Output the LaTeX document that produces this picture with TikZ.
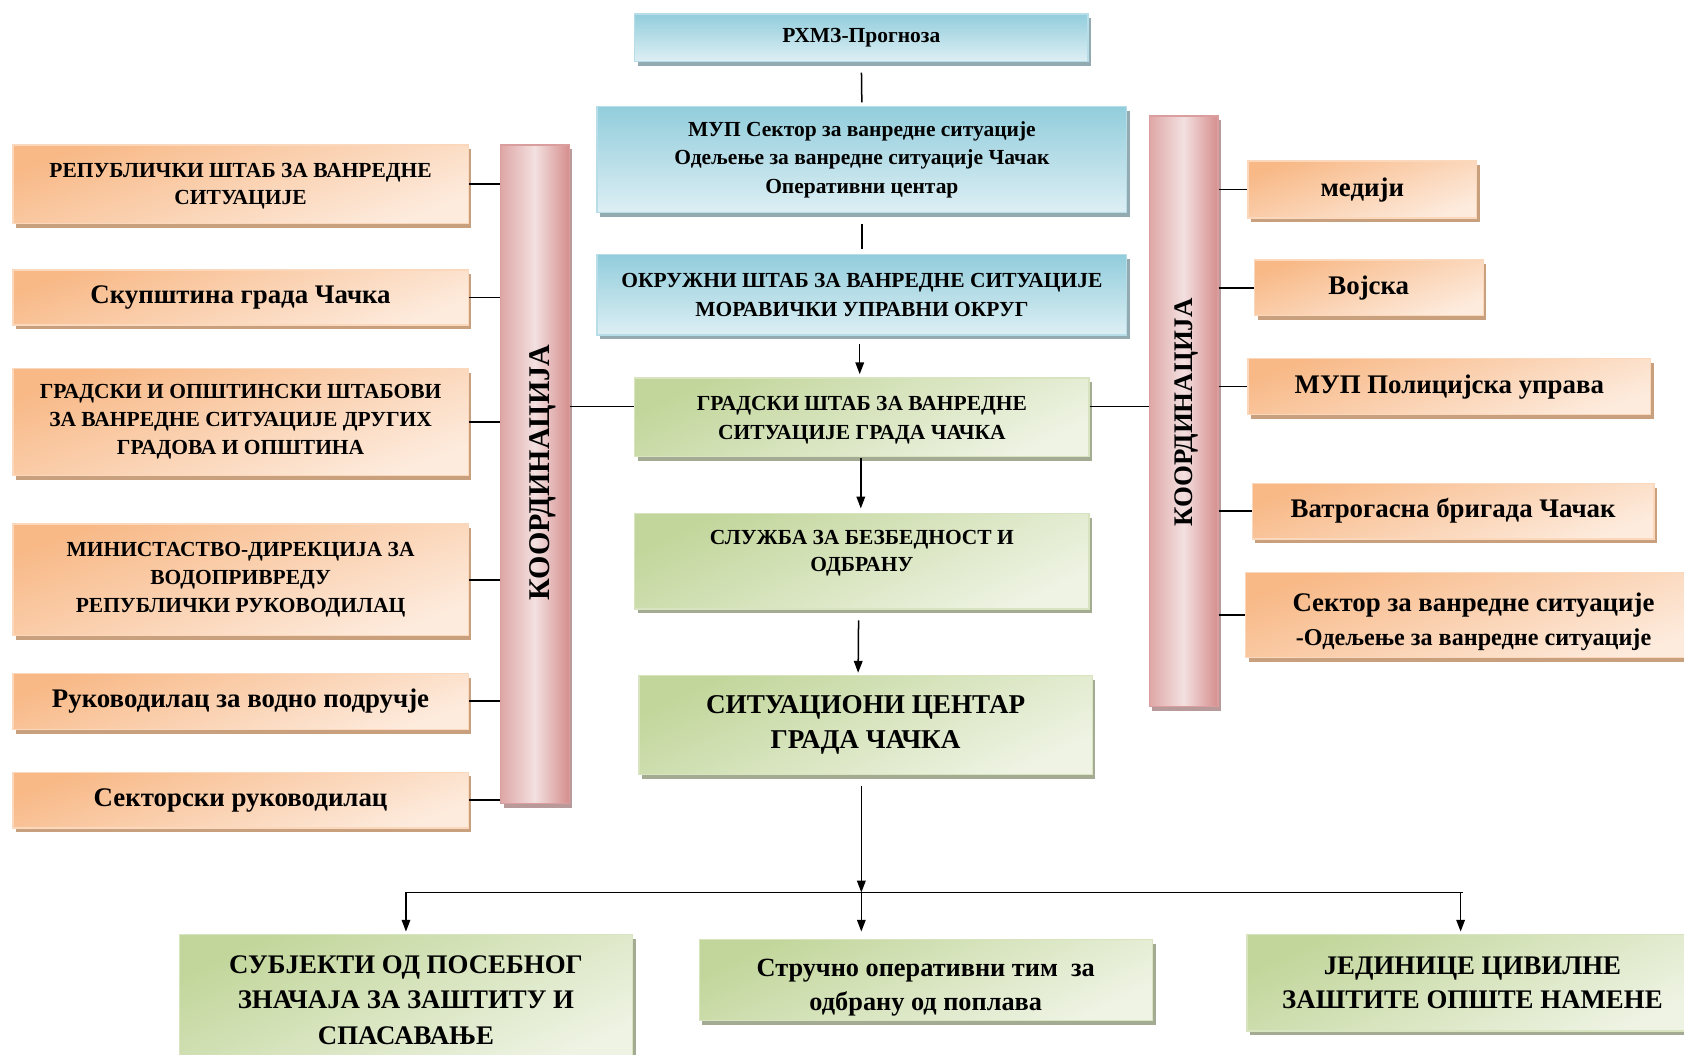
\documentclass[tikz,border=0pt]{standalone}
\usepackage{fontspec}
\setmainfont{Liberation Serif}
\usetikzlibrary{shadows,arrows.meta}
\definecolor{orD}{HTML}{F8B987}
\definecolor{orL}{HTML}{FDEBDD}
\definecolor{orS}{HTML}{C9A07E}
\definecolor{blD}{HTML}{92CDDC}
\definecolor{blL}{HTML}{DDEFF4}
\definecolor{blS}{HTML}{93AAB0}
\definecolor{grD}{HTML}{C2D69B}
\definecolor{grL}{HTML}{EEF3E3}
\definecolor{grS}{HTML}{A3AB93}
\definecolor{pkD}{HTML}{D58E8D}
\definecolor{pkL}{HTML}{F3E0E0}
\definecolor{pkS}{HTML}{B89A9A}
\newcommand{\fs}[2]{\fontsize{#1}{#2}\selectfont\bfseries}
\tikzset{
  basebox/.style={rectangle, inner sep=0pt, align=center, text=black, line width=1.2pt},
  obox/.style={basebox, top color=orD, bottom color=orL, shading angle=20, draw=orL!60!orD,
     drop shadow={shadow xshift=3pt, shadow yshift=-4pt, fill=orS, opacity=1}},
  bbox/.style={basebox, top color=blD, bottom color=blL, draw=blL!50!blD,
     drop shadow={shadow xshift=3pt, shadow yshift=-4pt, fill=blS, opacity=1}},
  gbox/.style={basebox, top color=grD, bottom color=grL, shading angle=25, draw=grL!50!grD,
     drop shadow={shadow xshift=3pt, shadow yshift=-4pt, fill=grS, opacity=1}},
  bar/.style={basebox, left color=pkD!70!pkL, right color=pkD, middle color=pkL, draw=pkD!80!pkL,
     drop shadow={shadow xshift=3pt, shadow yshift=-4pt, fill=pkS, opacity=1}},
  conn/.style={line width=1.6pt, draw=black},
  arr/.style={line width=1.4pt, draw=black, -{Triangle[length=11pt,width=8pt]}},
  small/.style={font=\fs{20}{26.5}},
  big/.style={font=\fs{25}{30}},
}
\begin{document}
\begin{tikzpicture}[x=1pt,y=-1pt]
\useasboundingbox (0,0) rectangle (1568,982);
\clip (0,0) rectangle (1568,982);
\fill[white] (0,0) rectangle (1568,982);
% center column
\node[bbox, small, minimum width=422, minimum height=44] (rhmz) at (802,35) {РХМЗ-Прогноза};
\node[bbox, small, minimum width=493, minimum height=99] (mup) at (802.5,148.5)
  {МУП Сектор за ванредне ситуације\\Одељење за ванредне ситуације Чачак\\Оперативни центар};
\node[bbox, small, font=\fs{20}{27}, minimum width=493, minimum height=75] (okr) at (802.5,274.5)
  {ОКРУЖНИ ШТАБ ЗА ВАНРЕДНЕ СИТУАЦИЈЕ\\МОРАВИЧКИ УПРАВНИ ОКРУГ};
\node[gbox, small, minimum width=423, minimum height=73] (gsh) at (802.5,388.5)
  {\rule{0pt}{19pt}ГРАДСКИ ШТАБ ЗА ВАНРЕДНЕ\\СИТУАЦИЈЕ ГРАДА ЧАЧКА};
\node[gbox, font=\fs{20}{25}, minimum width=423, minimum height=89] (slu) at (802.5,522.5)
  {СЛУЖБА ЗА БЕЗБЕДНОСТ И\\ОДБРАНУ\\[-6pt]~};
\node[gbox, font=\fs{25.3}{32}, minimum width=422, minimum height=92] (sit) at (806,675)
  {СИТУАЦИОНИ ЦЕНТАР\\ГРАДА ЧАЧКА};
% bottom
\node[gbox, font=\fs{25}{33}, minimum width=422, minimum height=122] (sub) at (378,931)
  {СУБЈЕКТИ ОД ПОСЕБНОГ\\ЗНАЧАЈА ЗА ЗАШТИТУ И\\СПАСАВАЊЕ};
\node[gbox, font=\fs{24.5}{32}, minimum width=422, minimum height=75] (str) at (862,912.5)
  {\rule{0pt}{30pt}Стручно оперативни тим~~за\\одбрану од поплава};
\node[gbox, font=\fs{25}{32}, minimum width=420, minimum height=90] (jed) at (1371,915)
  {ЈЕДИНИЦЕ ЦИВИЛНЕ\\ЗАШТИТЕ ОПШТЕ НАМЕНЕ};
% left column
\node[obox, font=\fs{20}{26}, minimum width=424, minimum height=73] (rep) at (224,171.5)
  {\rule{0pt}{17pt}РЕПУБЛИЧКИ ШТАБ ЗА ВАНРЕДНЕ\\СИТУАЦИЈЕ};
\node[obox, big, minimum width=424, minimum height=51] (sku) at (224,277)
  {Скупштина града Чачка};
\node[obox, font=\fs{20}{26}, minimum width=424, minimum height=100] (grd) at (224,393)
  {ГРАДСКИ И ОПШТИНСКИ ШТАБОВИ\\ЗА ВАНРЕДНЕ СИТУАЦИЈЕ ДРУГИХ\\ГРАДОВА И ОПШТИНА};
\node[obox, font=\fs{20}{26}, minimum width=424, minimum height=104] (min) at (224,540)
  {МИНИСТАСТВО-ДИРЕКЦИЈА ЗА\\ВОДОПРИВРЕДУ\\РЕПУБЛИЧКИ РУКОВОДИЛАЦ};
\node[obox, big, minimum width=424, minimum height=52] (ruk) at (224,653)
  {Руководилац за водно подручје};
\node[obox, big, minimum width=424, minimum height=52] (sek) at (224,745)
  {Секторски руководилац};
% bars
\node[bar, minimum width=64, minimum height=613] (lbar) at (498,441.5) {};
\node[rotate=90, inner sep=0pt, font=\fs{28}{30}] (ltxt) at (505,440) {КООРДИНАЦИЈА};
\node[bar, minimum width=64, minimum height=550] (rbar) at (1102,383) {};
\node[rotate=90, inner sep=0pt, font=\fs{25}{30}] (rtxt) at (1105,384) {КООРДИНАЦИЈА};
% right column
\node[obox, big, minimum width=213, minimum height=53] (med) at (1268.5,176.5) {медији};
\node[obox, big, minimum width=213, minimum height=52] (voj) at (1274.5,268) {Војска};
\node[obox, big, minimum width=375, minimum height=52] (mup2) at (1349.5,360) {МУП Полицијска управа};
\node[obox, big, minimum width=374, minimum height=52] (vat) at (1353,476) {Ватрогасна бригада Чачак};
\node[obox, font=\fs{25}{31}, minimum width=424, minimum height=79] (sek2) at (1372,572.5)
  {\rule{0pt}{30pt}Сектор за ванредне ситуације\\\fs{22.5}{31}-Одељење за ванредне ситуације};
% connectors
\draw[line width=1.4pt, shorten <=10pt, shorten >=3pt] (rhmz.south) -- (mup.north);
\draw[line width=1.4pt, shorten <=10pt, shorten >=5pt] (mup.south) -- (okr.north);
\draw[arr, shorten <=8pt, shorten >=3pt] ([xshift=-2pt]okr.south) -- ([xshift=-2pt]gsh.north);
\draw[arr, shorten <=1pt, shorten >=4pt] ([xshift=-1pt]gsh.south) -- ([xshift=-1pt]slu.north);
\draw[arr, shorten <=10pt, shorten >=2pt] ([xshift=-3pt]slu.south) -- ([xshift=-7pt]sit.north);
\coordinate (busL) at (378,831);
\coordinate (busM) at (802,831);
\coordinate (busR) at (1362,831);
\draw[arr, shorten <=10pt] (busM |- sit.south) -- (busM);
\draw[line width=1.6pt] (busL) -- (busR);
\draw[arr, shorten >=2pt] (busL) -- (busL |- sub.north);
\draw[arr, shorten >=7pt] (busM) -- (busM |- str.north);
\draw[arr, shorten >=2pt] ([xshift=-2pt]busR) -- ([xshift=-2pt]busR |- jed.north);
\foreach \n in {rep,sku,grd,min,ruk,sek}
  \draw[conn] (\n.east) -- (\n.east -| lbar.west);
\foreach \n in {med,voj,mup2,vat,sek2}
  \draw[conn] (\n.west -| rbar.east) -- (\n.west);
\draw[conn] ([yshift=10pt]gsh.west -| lbar.east) -- ([yshift=10pt]gsh.west);
\draw[conn] ([yshift=10pt]gsh.east) -- ([yshift=10pt]gsh.east -| rbar.west);
\end{tikzpicture}
\end{document}
